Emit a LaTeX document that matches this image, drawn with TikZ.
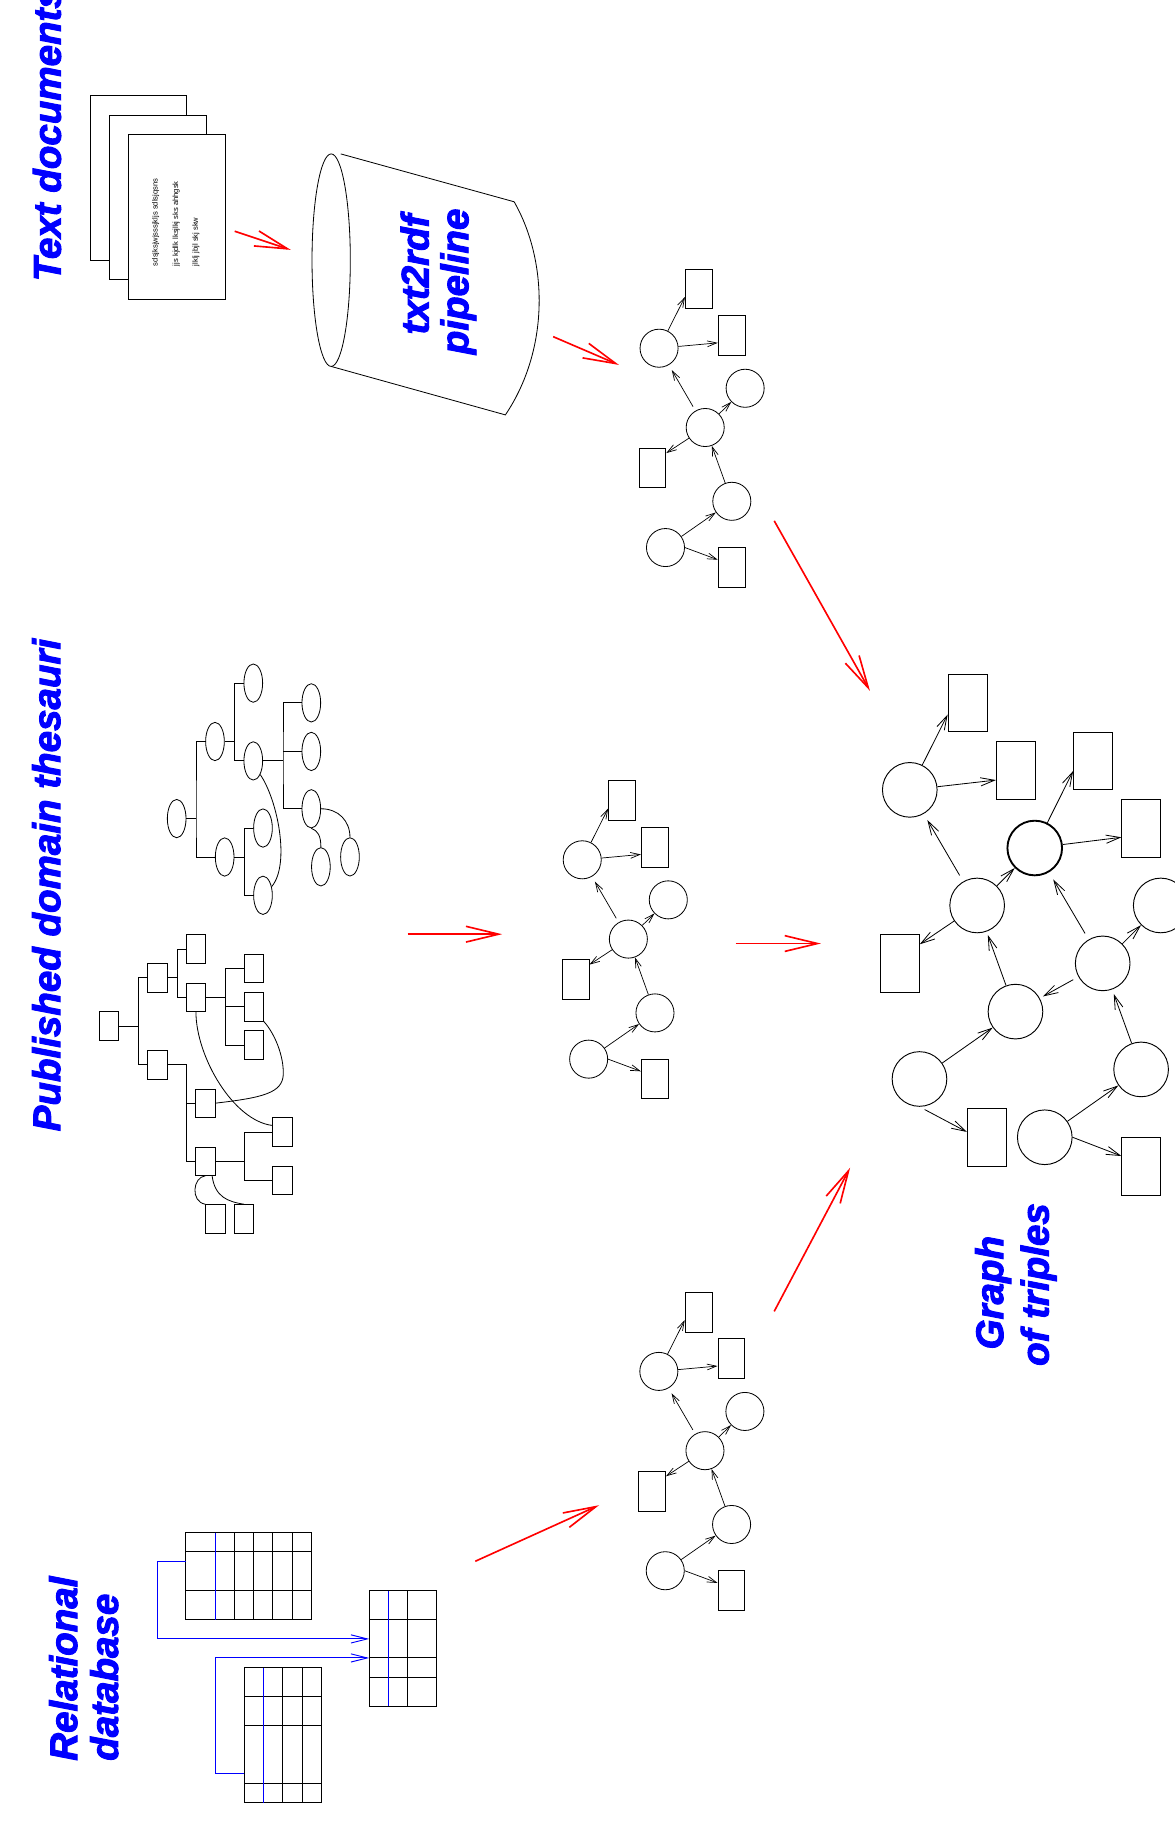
\documentclass[tikz,border=0pt]{standalone}
\usepackage{fontspec}
\newfontfamily\labfont{Liberation Sans}[BoldItalicFeatures={FakeBold=2.5}]
\usetikzlibrary{arrows.meta,shapes.geometric}

\tikzset{
  lab/.style={font=\labfont\bfseries\itshape\fontsize{33pt}{35pt}\selectfont,
              text=blue, rotate=90, inner sep=0pt},
  doctext/.style={font=\labfont\fontsize{6.5pt}{7pt}\selectfont,
                  rotate=90, anchor=base west, inner sep=0pt},
  sheet/.style={draw, fill=white, line width=0.7pt},
  flow/.style={red, line width=1.4pt, -{Straight Barb[length=28pt,width=13.5pt]}},
  % small triple graphs
  scirc/.style={circle, draw, minimum size=32.6pt, inner sep=0pt, line width=0.7pt},
  srect/.style={rectangle, draw, minimum width=23pt, minimum height=34pt,
                inner sep=0pt, line width=0.7pt},
  sedge/.style={line width=0.6pt, -{Straight Barb[length=8pt,width=5pt]}},
  % large triple graph
  bcirc/.style={circle, draw, minimum size=46.8pt, inner sep=0pt, line width=0.8pt},
  brect/.style={rectangle, draw, minimum width=33.4pt, minimum height=49.5pt,
                inner sep=0pt, line width=0.8pt},
  bedge/.style={line width=0.7pt, -{Straight Barb[length=12pt,width=7pt]}},
  % thesaurus trees
  tell/.style={ellipse, draw, minimum width=16pt, minimum height=32.8pt,
               inner sep=0pt, line width=0.7pt},
  trect/.style={rectangle, draw, minimum width=16.6pt, minimum height=24.4pt,
                inner sep=0pt, line width=0.7pt},
  tline/.style={line width=0.7pt},
  % relational tables
  tab/.style={line width=0.8pt},
  keycol/.style={blue, line width=0.8pt},
  fk/.style={blue, line width=0.8pt, -{Straight Barb[length=14pt,width=7pt]}},
  % one small graph of triples
  triples/.pic={
    \node[scirc] (-a)  at (0,0) {};
    \node[srect] (-r1) at (34,-50.7) {};
    \node[srect] (-r2) at (62.1,-10.9) {};
    \node[scirc] (-b)  at (73.7,34.3) {};
    \node[scirc] (-c)  at (39.5,67.9) {};
    \node[srect] (-r3) at (-5.7,102.5) {};
    \node[scirc] (-d)  at (62.3,131.1) {};
    \node[scirc] (-e)  at (5.5,170.7) {};
    \node[srect] (-r4) at (62.1,187.7) {};
    \draw[sedge] (-a) -- (-r1.210);
    \draw[sedge] (-a) -- (-r2.208);
    \draw[sedge, shorten <=4pt, shorten >=5pt] (-c) -- (-a);
    \draw[sedge] (-c) -- (-b);
    \draw[sedge] (-c) -- (-r3.47);
    \draw[sedge] (-d) -- (-c);
    \draw[sedge] (-e) -- (-d);
    \draw[sedge] (-e.east) -- (-r4.151);
  }
}

\begin{document}
\begin{tikzpicture}[x=1pt, y=-1pt]
\useasboundingbox (0,0) rectangle (1006,1568);
\clip (0,0) rectangle (1006,1568);

% ---------------- labels ----------------
\node[lab, anchor=base west] (tdoc) at (52,241) {Text documents};
\node[lab, anchor=base west] (thes) at (51.5,969) {Published domain thesauri};
\node[lab, anchor=base west] (rel1) at (66,1508) {Relational};
\node[lab, anchor=base west] (rel2) at (101,1508) {database};
\node[lab, anchor=base] (pipe1) at (367,235) {txt2rdf};
\node[lab, anchor=base] (pipe2) at (401,241) {pipeline};
\node[lab, anchor=base] (gr1) at (859,1107) {Graph};
\node[lab, anchor=base] (gr2) at (898,1100) {of triples};

% ---------------- stack of text documents ----------------
\draw[sheet] (77,82) rectangle (160,223);
\draw[sheet] (93.5,98.5) rectangle (176.5,239.5);
\draw[sheet] (110,115) rectangle (193,256);
\node[doctext] (dl1) at (135,228) {sdsjksjwjsssjkljs sdlsjqsns};
\node[doctext] (dl2) at (152.5,228) {jjs kjdlk lksjlkj sks ahhgsk};
\node[doctext] (dl3) at (169.5,228) {jlklj jbjl skj skw};

% ---------------- txt2rdf cylinder ----------------
\draw[line width=0.7pt] (283.6,222.8) ellipse [x radius=16.4pt, y radius=91pt];
\draw[line width=0.7pt] (291.8,131.8) -- (440.3,172.8)
  .. controls (470,225) and (470,300) .. (432.8,355.3) -- (283.6,313.8);

% ---------------- small graphs of triples ----------------
\pic (g1) at (564.4,298.2) {triples};
\pic (g2) at (498.6,736.3) {triples};
\pic (g3) at (564.2,1174.4) {triples};

% ---------------- thesaurus: ellipse tree ----------------
\node[tell] (e0) at (151.3,701) {};
\node[tell] (e1) at (184.1,635) {};
\node[tell] (e2) at (192.4,733.9) {};
\node[tell] (e3) at (216.9,585) {};
\node[tell] (e4) at (216.9,651.6) {};
\node[tell] (e5) at (225.2,709.1) {};
\node[tell] (e6) at (225.2,766.7) {};
\node[tell] (e7) at (266.6,601.9) {};
\node[tell] (e8) at (266.6,643.5) {};
\node[tell] (e9) at (266.6,692.6) {};
\node[tell] (e10) at (274.8,742.3) {};
\node[tell] (e11) at (299.7,733.8) {};
\draw[tline] (e0.east) -- ++(8.2,0) coordinate (k0);
\draw[tline] (e1.west) -| (k0) |- (e2.west);
\draw[tline] (e1.east) -- ++(8.5,0) coordinate (k1);
\draw[tline] (e3.west) -| (k1) |- (e4.west);
\draw[tline] (e2.east) -- ++(8.5,0) coordinate (k2);
\draw[tline] (e5.west) -| (k2) |- (e6.west);
\draw[tline] (e4.east) -- ++(17.1,0) coordinate (k3);
\draw[tline] (e7.west) -| (k3) |- (e9.west);
\draw[tline] (k3 |- e8.west) -- (e8.west);
\draw[tline] (e4.-63) .. controls +(15,22) and +(16,-19) .. (e6.45);
\draw[tline] (e9.south) .. controls +(5.5,2) and +(0,-10) .. (e10.north);
\draw[tline] (e9.east) .. controls +(15,0) and +(0,-14) .. (e11.north);

% ---------------- thesaurus: box tree ----------------
\node[trect] (q0) at (93.3,878.7) {};
\node[trect] (q1) at (134.7,837.4) {};
\node[trect] (q2) at (134.7,911.8) {};
\node[trect] (q3) at (167.8,812.7) {};
\node[trect] (q4) at (167.8,854.0) {};
\node[trect] (q5) at (217.2,829.3) {};
\node[trect] (q6) at (217.2,862.1) {};
\node[trect] (q7) at (217.2,894.9) {};
\node[trect] (q8) at (175.8,944.7) {};
\node[trect] (q9) at (175.8,994.4) {};
\node[trect] (q10) at (242.0,969.4) {};
\node[trect] (q11) at (242.0,1010.7) {};
\node[trect] (q12) at (184.4,1043.8) {};
\node[trect] (q13) at (208.9,1043.8) {};
\draw[tline] (q0.east) -- ++(16.6,0) coordinate (m0);
\draw[tline] (q1.west) -| (m0) |- (q2.west);
\draw[tline] (q1.east) -- ++(8.3,0) coordinate (m1);
\draw[tline] (q3.west) -| (m1) |- (q4.west);
\draw[tline] (q4.east) -- ++(16.3,0) coordinate (m2);
\draw[tline] (q5.west) -| (m2) |- (q7.west);
\draw[tline] (m2 |- q6.west) -- (q6.west);
\draw[tline] (q2.east) -- ++(16.5,0) coordinate (m3);
\draw[tline] (m3) |- (q8.west);
\draw[tline] (m3) |- (q9.west);
\draw[tline] (q9.east) -- ++(24.8,0) coordinate (m4);
\draw[tline] (q10.west) -| (m4) |- (q11.west);
\draw[tline] (q4.south) .. controls (167.8,905) and (200,960) .. (q10.147);
\draw[tline] (q6.south east) .. controls (236,886) and (243,905) .. (242.6,920)
  .. controls (242,936) and (225,940) .. (q8.east);
\draw[tline] (q9.south) .. controls (165,1008) and (163,1029) .. (q12.north west);
\draw[tline] (q9.-65) .. controls (184,1025) and (195,1029) .. (q13.north);

% ---------------- relational database ----------------
\draw[tab] (159.2,1312.5) rectangle (266.8,1386.9);
\foreach \x in {200.6,217.2,233.7,250.3} \draw[tab] (\x,1312.5) -- (\x,1386.9);
\foreach \y in {1329.0,1362.1} \draw[tab] (159.2,\y) -- (266.8,\y);
\draw[keycol] (184.1,1312.5) -- (184.1,1386.9);

\draw[tab] (209.2,1428.3) rectangle (275.1,1543.9);
\foreach \x in {242.0,258.6} \draw[tab] (\x,1428.3) -- (\x,1543.9);
\foreach \y in {1453.1,1478.0,1527.3} \draw[tab] (209.2,\y) -- (275.1,\y);
\draw[keycol] (225.5,1428.3) -- (225.5,1543.9);

\draw[tab] (316.2,1362.1) rectangle (374.1,1461.1);
\draw[tab] (349.3,1362.1) -- (349.3,1461.1);
\foreach \y in {1387.0,1419.8,1436.3} \draw[tab] (316.2,\y) -- (374.1,\y);
\draw[keycol] (332.8,1362.1) -- (332.8,1461.1);

\coordinate (t1k) at (159.2,1337.3);
\coordinate (t2k) at (209.2,1519.1);
\coordinate (t3a) at (316.2,1403.5);
\coordinate (t3b) at (316.2,1419.8);
\draw[fk] (t1k) -- ++(-24.5,0) |- (t3a);
\draw[fk] (t2k) -- ++(-25.1,0) |- (t3b);

% ---------------- merged graph of triples ----------------
\node[bcirc] (A) at (779.1,676.4) {};
\node[brect] (RA1) at (828.6,602.05) {};
\node[brect] (RA2) at (870,660.05) {};
\node[bcirc, line width=1.6pt] (B) at (886.1,726.2) {};
\node[brect] (RB1) at (936.05,651.6) {};
\node[brect] (RB2) at (977.45,709.75) {};
\node[bcirc] (C) at (836.8,775.4) {};
\node[brect] (RC) at (770.55,825.15) {};
\node[bcirc] (D) at (994,775.4) {};
\node[bcirc] (E) at (944.3,825) {};
\node[bcirc] (F) at (869.6,866.3) {};
\node[bcirc] (G) at (787.4,924) {};
\node[bcirc] (H) at (977.2,915.8) {};
\node[brect] (RG) at (845.05,973.9) {};
\node[bcirc] (I) at (894.7,973.9) {};
\node[brect] (RI) at (977.45,998.7) {};

\draw[bedge] (A) -- (RA1.210);
\draw[bedge] (A) -- (RA2.205);
\draw[bedge, shorten <=6pt, shorten >=6pt] (C) -- (A);
\draw[bedge] (C) -- (B);
\draw[bedge] (C) -- (RC.44);
\draw[bedge] (B) -- (RB1.207);
\draw[bedge] (B) -- (RB2.203);
\draw[bedge, shorten <=6pt, shorten >=7pt] (E) -- (B);
\draw[bedge] (E) -- (D);
\draw[bedge, shorten <=5pt, shorten >=3pt] (E) -- (F);
\draw[bedge, shorten >=3pt] (F) -- (C);
\draw[bedge, shorten >=4pt] (H) -- (E);
\draw[bedge] (G) -- (F);
\draw[bedge, shorten <=5pt] (G.south) -- (RG.165);
\draw[bedge] (I) -- (H);
\draw[bedge] (I.east) -- (RI.153);

% ---------------- flow arrows ----------------
\coordinate (f1s) at (201,198);   \coordinate (f1e) at (249,214);
\coordinate (f2s) at (473.7,288.3); \coordinate (f2e) at (530,312.5);
\coordinate (f3s) at (663,446);   \coordinate (f3e) at (745,591.6);
\coordinate (f4s) at (349,800);   \coordinate (f4e) at (430,800);
\coordinate (f5s) at (630,808);   \coordinate (f5e) at (703,808);
\coordinate (f6s) at (407,1337);  \coordinate (f6e) at (513,1289);
\coordinate (f7s) at (663,1123);  \coordinate (f7e) at (728,1000);
\foreach \i in {1,...,7} \draw[flow] (f\i s) -- (f\i e);
\end{tikzpicture}
\end{document}
